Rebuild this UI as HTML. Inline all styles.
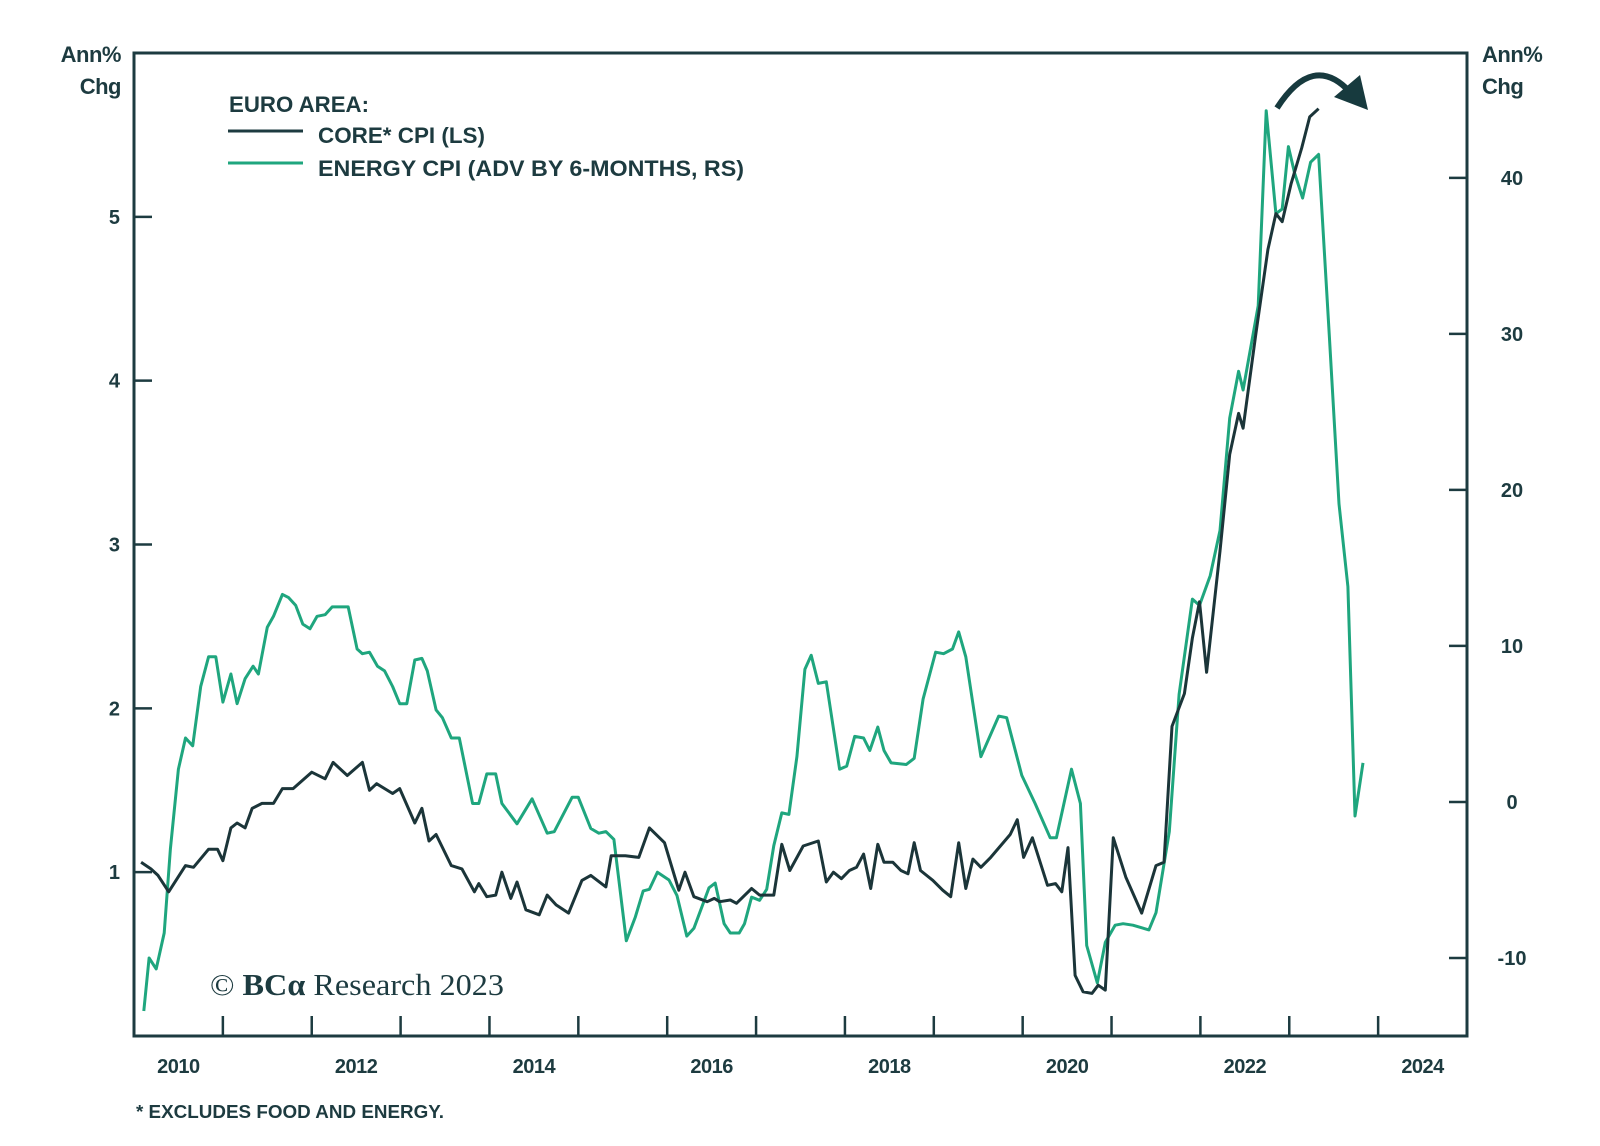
<!DOCTYPE html>
<html><head><meta charset="utf-8">
<style>
html,body{margin:0;padding:0;background:#fff;}
svg{display:block;font-family:"Liberation Sans",sans-serif;}
</style></head>
<body>
<svg id="chart" width="1600" height="1146" viewBox="0 0 1600 1146" xmlns="http://www.w3.org/2000/svg">
  <rect x="0" y="0" width="1600" height="1146" fill="#fff"/>
  <g id="axes"></g>
  <g id="series"></g>
  <rect x="134" y="53" width="1333" height="983" fill="none" stroke="#1d3b40" stroke-width="3"/>
  <text x="121" y="62" text-anchor="end" font-size="22" font-weight="bold" fill="#1d3b40" letter-spacing="-0.5">Ann%</text>
  <text x="121" y="94" text-anchor="end" font-size="22" font-weight="bold" fill="#1d3b40" letter-spacing="-0.5">Chg</text>
  <text x="1482" y="62" font-size="22" font-weight="bold" fill="#1d3b40" letter-spacing="-0.5">Ann%</text>
  <text x="1482" y="94" font-size="22" font-weight="bold" fill="#1d3b40" letter-spacing="-0.5">Chg</text>
  <g>
    <text x="229" y="112" font-size="22" font-weight="bold" fill="#1d3b40" textLength="140" lengthAdjust="spacingAndGlyphs">EURO AREA:</text>
    <line x1="228" y1="131" x2="303" y2="131" stroke="#1d3b40" stroke-width="3"/>
    <text x="318" y="143" font-size="22" font-weight="bold" fill="#1d3b40" textLength="167" lengthAdjust="spacingAndGlyphs">CORE* CPI (LS)</text>
    <line x1="228" y1="163" x2="303" y2="163" stroke="#1fa67e" stroke-width="3"/>
    <text x="318" y="176" font-size="22" font-weight="bold" fill="#1d3b40" textLength="426" lengthAdjust="spacingAndGlyphs">ENERGY CPI (ADV BY 6-MONTHS, RS)</text>
  </g>
  <text x="210" y="995" font-family="'Liberation Serif',serif" font-size="31" fill="#1d3b40" textLength="294" lengthAdjust="spacingAndGlyphs">© <tspan font-weight="bold">BCα</tspan> Research 2023</text>
  <text x="136" y="1118" font-size="18" font-weight="bold" fill="#1d3b40" textLength="308" lengthAdjust="spacingAndGlyphs">* EXCLUDES FOOD AND ENERGY.</text>
  <g>
    <path d="M1277,108 Q1313,52 1350,92" fill="none" stroke="#173a3e" stroke-width="6"/>
    <polygon points="1368,110 1334,97 1360,75" fill="#173a3e"/>
  </g>
</svg>
<script>
const xYears = [2010,2011,2012,2013,2014,2015,2016,2017,2018,2019,2020,2021,2022,2023,2024];
const xLabels = ["2010","2012","2014","2016","2018","2020","2022","2024"];
const xLabelYears = [2010,2012,2014,2016,2018,2020,2022,2024];
const leftTicks = [1,2,3,4,5];
const rightTicks = [-10,0,10,20,30,40];

const coreT = [2010.08,2010.19,2010.27,2010.39,2010.58,2010.67,2010.84,2010.94,2011.0,2011.09,2011.16,2011.25,2011.33,2011.44,2011.57,2011.67,2011.79,2012.0,2012.15,2012.24,2012.40,2012.57,2012.65,2012.73,2012.91,2012.99,2013.16,2013.24,2013.32,2013.40,2013.57,2013.69,2013.83,2013.88,2013.97,2014.07,2014.14,2014.24,2014.31,2014.41,2014.56,2014.65,2014.75,2014.89,2015.04,2015.14,2015.31,2015.37,2015.53,2015.68,2015.80,2015.97,2016.13,2016.20,2016.30,2016.45,2016.53,2016.59,2016.71,2016.78,2016.95,2017.04,2017.20,2017.29,2017.38,2017.53,2017.70,2017.79,2017.87,2017.96,2018.05,2018.13,2018.21,2018.29,2018.37,2018.44,2018.54,2018.63,2018.71,2018.78,2018.85,2018.99,2019.10,2019.19,2019.28,2019.36,2019.44,2019.53,2019.64,2019.86,2019.94,2020.01,2020.11,2020.28,2020.37,2020.44,2020.51,2020.59,2020.68,2020.78,2020.85,2020.93,2021.02,2021.16,2021.34,2021.50,2021.59,2021.68,2021.82,2021.91,2021.99,2022.07,2022.22,2022.33,2022.43,2022.48,2022.62,2022.76,2022.85,2022.92,2023.02,2023.14,2023.23,2023.33];
const coreV = [1.06,1.02,0.98,0.88,1.04,1.03,1.14,1.14,1.07,1.27,1.30,1.27,1.39,1.42,1.42,1.51,1.51,1.61,1.57,1.67,1.59,1.67,1.50,1.54,1.48,1.51,1.30,1.39,1.19,1.23,1.04,1.02,0.88,0.93,0.85,0.86,1.00,0.84,0.94,0.77,0.74,0.86,0.80,0.75,0.95,0.98,0.91,1.10,1.10,1.09,1.27,1.18,0.89,1.00,0.85,0.82,0.84,0.82,0.83,0.81,0.90,0.86,0.86,1.17,1.01,1.16,1.19,0.94,1.00,0.96,1.01,1.03,1.11,0.90,1.17,1.06,1.06,1.01,0.99,1.18,1.01,0.95,0.89,0.85,1.18,0.90,1.08,1.03,1.09,1.23,1.32,1.09,1.21,0.92,0.93,0.88,1.15,0.37,0.27,0.26,0.31,0.28,1.21,0.97,0.75,1.04,1.06,1.89,2.09,2.43,2.65,2.22,2.96,3.55,3.80,3.71,4.27,4.80,5.02,4.97,5.20,5.42,5.61,5.66];

const energyT = [2010.11,2010.17,2010.25,2010.34,2010.41,2010.50,2010.58,2010.66,2010.75,2010.84,2010.92,2011.0,2011.09,2011.16,2011.25,2011.34,2011.40,2011.50,2011.57,2011.67,2011.74,2011.82,2011.90,2011.98,2012.06,2012.15,2012.23,2012.41,2012.51,2012.57,2012.65,2012.74,2012.82,2012.91,2012.99,2013.07,2013.16,2013.24,2013.30,2013.40,2013.47,2013.57,2013.66,2013.81,2013.88,2013.97,2014.07,2014.14,2014.31,2014.48,2014.65,2014.73,2014.93,2015.0,2015.14,2015.23,2015.31,2015.40,2015.54,2015.64,2015.73,2015.80,2015.89,2016.02,2016.11,2016.22,2016.30,2016.47,2016.54,2016.64,2016.71,2016.81,2016.87,2016.95,2017.04,2017.12,2017.20,2017.29,2017.37,2017.46,2017.55,2017.62,2017.70,2017.79,2017.94,2018.02,2018.11,2018.21,2018.28,2018.37,2018.44,2018.52,2018.69,2018.78,2018.88,2019.02,2019.11,2019.21,2019.28,2019.36,2019.53,2019.73,2019.82,2019.99,2020.14,2020.31,2020.38,2020.55,2020.65,2020.72,2020.84,2020.93,2021.04,2021.13,2021.24,2021.42,2021.50,2021.65,2021.76,2021.91,2021.99,2022.11,2022.22,2022.33,2022.43,2022.48,2022.65,2022.74,2022.85,2022.92,2022.99,2023.06,2023.15,2023.24,2023.33,2023.45,2023.56,2023.66,2023.74,2023.83];
const energyV = [-13.4,-10.0,-10.7,-8.4,-3.0,2.1,4.1,3.6,7.4,9.3,9.3,6.4,8.2,6.3,7.9,8.7,8.2,11.2,11.9,13.3,13.1,12.6,11.4,11.1,11.9,12.0,12.5,12.5,9.8,9.5,9.6,8.7,8.4,7.4,6.3,6.3,9.1,9.2,8.4,5.9,5.4,4.1,4.1,-0.1,-0.1,1.8,1.8,-0.1,-1.4,0.2,-2.0,-1.9,0.3,0.3,-1.7,-2.0,-1.9,-2.4,-8.9,-7.4,-5.7,-5.6,-4.5,-5.0,-6.0,-8.6,-8.1,-5.5,-5.2,-7.8,-8.4,-8.4,-7.8,-6.1,-6.3,-5.6,-2.8,-0.7,-0.8,2.9,8.5,9.4,7.6,7.7,2.1,2.3,4.2,4.1,3.3,4.8,3.3,2.5,2.4,2.8,6.6,9.6,9.5,9.8,10.9,9.3,2.9,5.5,5.4,1.7,-0.1,-2.3,-2.3,2.1,-0.1,-9.2,-11.6,-9.0,-7.9,-7.8,-7.9,-8.2,-7.1,-1.9,6.9,13.0,12.6,14.5,17.4,24.6,27.6,26.4,31.8,44.3,37.7,38.0,42.0,40.3,38.7,41.0,41.5,29.9,19.1,13.8,-0.9,2.5];

const PL=134, PR=1467, PT=53, PB=1036;
const X0=2010, X1=2025, L0=0, L1=6.0, R0=-15, R1=48.0;
function xs(t){return PL+(t-X0)/(X1-X0)*(PR-PL);}
function yl(v){return PB-(v-L0)/(L1-L0)*(PB-PT);}
function yr(v){return PB-(v-R0)/(R1-R0)*(PB-PT);}

const NS="http://www.w3.org/2000/svg";
const axes=document.getElementById('axes');
const series=document.getElementById('series');
function mk(tag,attrs,parent){const e=document.createElementNS(NS,tag);for(const k in attrs)e.setAttribute(k,attrs[k]);parent.appendChild(e);return e;}
const C="#1d3b40";

leftTicks.forEach(v=>{
  const y=yl(v);
  const t=mk('line',{x1:PL,x2:PL+18,y1:y,y2:y,stroke:C,'stroke-width':2.5},axes);
  
  
  const l=mk('text',{x:120,y:y+7,'text-anchor':'end','font-size':20,'font-weight':'bold',fill:C},axes);
  l.textContent=String(v);
  
  
});
rightTicks.forEach(v=>{
  const y=yr(v);
  const t=mk('line',{x1:PR-18,x2:PR,y1:y,y2:y,stroke:C,'stroke-width':2.5},axes);
  
  
  const l=mk('text',{x:1512,y:y+7,'text-anchor':'middle','font-size':20,'font-weight':'bold',fill:C},axes);
  l.textContent=String(v);
  
  
});
xYears.forEach(yv=>{
  if(yv===2010) return;
  const x=xs(yv);
  const t=mk('line',{x1:x,x2:x,y1:PB,y2:PB-20,stroke:C,'stroke-width':2.5},axes);
  
  
});
xLabels.forEach((s,i)=>{
  const l=mk('text',{x:xs(xLabelYears[i]+0.5),y:1073,'text-anchor':'middle','font-size':20,'font-weight':'bold',fill:C,'letter-spacing':'-0.5'},axes);
  l.textContent=s;
  
  
});

const ep=energyT.map((t,i)=>xs(t).toFixed(1)+','+yr(energyV[i]).toFixed(1)).join(' ');
const e=mk('polyline',{points:ep,fill:'none',stroke:'#1fa67e','stroke-width':3,'stroke-linejoin':'round'},series);


const cp=coreT.map((t,i)=>xs(t).toFixed(1)+','+yl(coreV[i]).toFixed(1)).join(' ');
const c=mk('polyline',{points:cp,fill:'none',stroke:'#1b3539','stroke-width':3,'stroke-linejoin':'round'},series);


</script>
</body></html>
